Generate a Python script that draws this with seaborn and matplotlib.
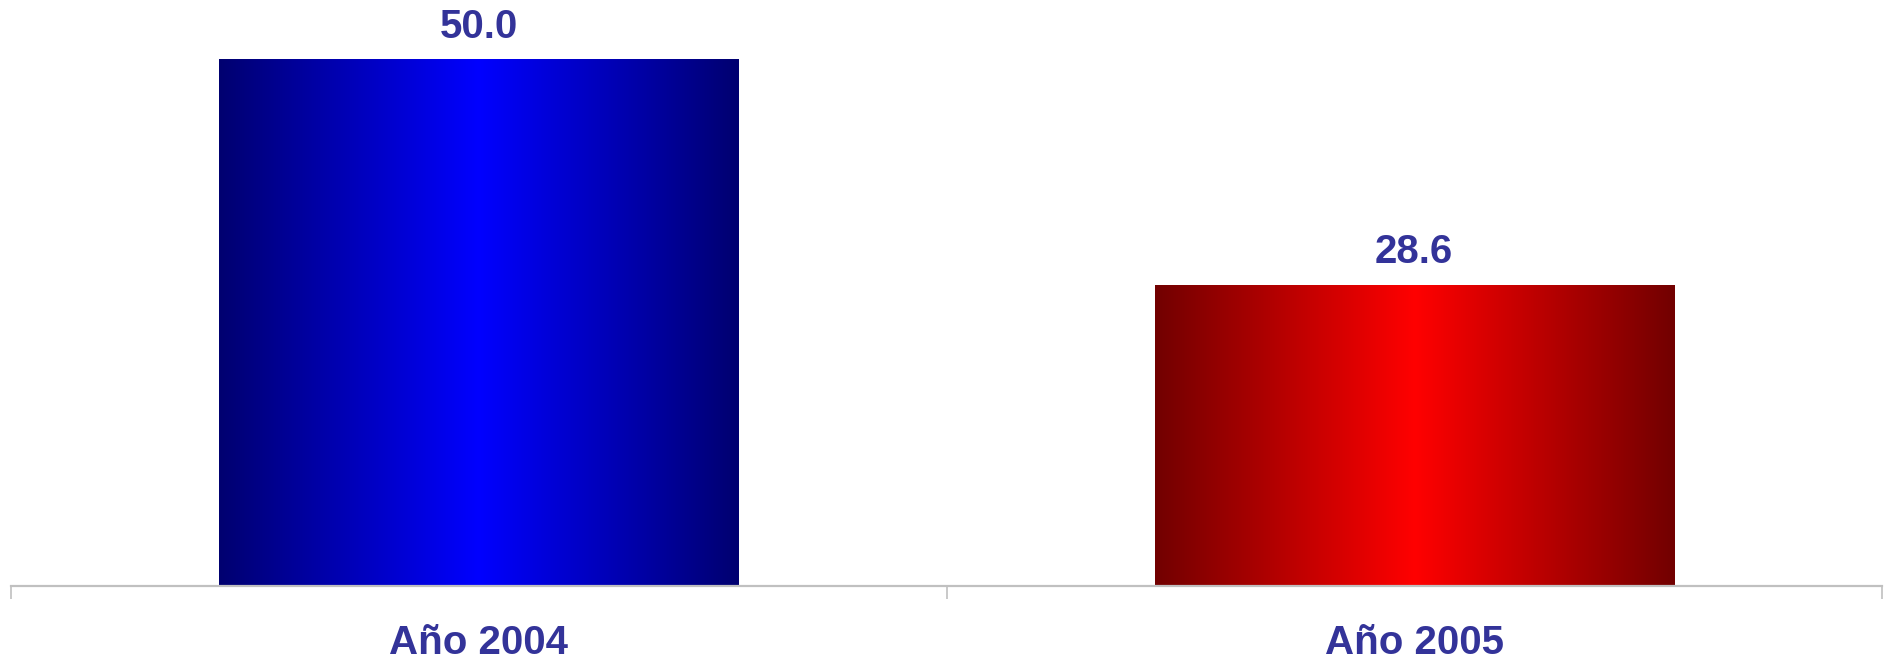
import numpy as np
import pandas as pd
import matplotlib
matplotlib.use("Agg")
import matplotlib.pyplot as plt
import seaborn as sns
from matplotlib.colors import LinearSegmentedColormap

# 数据
categories = ["Año 2004", "Año 2005"]
values = [50.0, 28.6]
edge_colors = ["#000070", "#720000"]
center_colors = ["#0000FF", "#FF0000"]

text_color = "#333399"
axis_color = "#C0C0C0"

sns.set_style("white")
plt.rcParams['font.family'] = ['Liberation Sans', 'DejaVu Sans']

fig = plt.figure(figsize=(18.88, 6.61), dpi=100)
ax = fig.add_axes([11 / 1888, 75 / 661, 1871 / 1888, 586 / 661])

df = pd.DataFrame({"cat": categories, "val": values})
sns.barplot(data=df, x="cat", y="val", hue="cat", palette=center_colors,
            width=0.555, legend=False, ax=ax, saturation=1)

# 渐变填充
for patch, c0, c1 in zip(ax.patches, edge_colors, center_colors):
    x0 = patch.get_x()
    w = patch.get_width()
    h = patch.get_height()
    cmap = LinearSegmentedColormap.from_list("g", [c0, c1, c0])
    grad = np.linspace(0, 1, 256).reshape(1, -1)
    patch.set_facecolor("none")
    patch.set_edgecolor("none")
    ax.imshow(grad, cmap=cmap, extent=[x0, x0 + w, 0, h], aspect="auto",
              zorder=2, interpolation="bicubic")
    ax.annotate(f"{h:.1f}", (x0 + w / 2, h), xytext=(0, 10),
                textcoords="offset points", ha="center", va="bottom",
                fontsize=29, fontweight="bold", color=text_color)

ax.set_xlim(-0.5, 1.5)
ax.set_ylim(0, 55.7)

for s in ["top", "right", "left"]:
    ax.spines[s].set_visible(False)
ax.spines["bottom"].set_color(axis_color)
ax.spines["bottom"].set_linewidth(1.6)

ax.set_yticks([])
ax.set_xticks([-0.5, 0.5, 1.5])
ax.set_xticklabels([])
ax.tick_params(axis="x", which="major", length=9, width=1.2, color=axis_color,
               bottom=True)
ax.set_xticks([0, 1], minor=True)
ax.set_xticklabels(categories, minor=True, fontsize=29, fontweight="bold",
                   color=text_color)
ax.tick_params(axis="x", which="minor", length=0, pad=27.5)
ax.set_xlabel("")
ax.set_ylabel("")

fig.savefig("out.png", dpi=100)
